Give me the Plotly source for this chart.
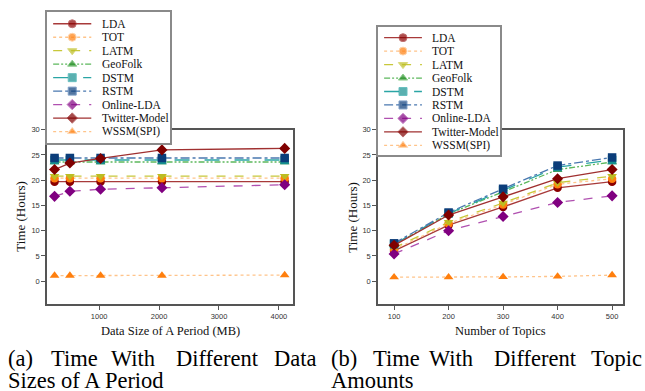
import numpy as np
import plotly.graph_objects as go

W, H = 645, 391

# ---------------- data ----------------
series_names = ["LDA", "TOT", "LATM", "GeoFolk", "DSTM", "RSTM", "Online-LDA", "Twitter-Model", "WSSM(SPI)"]

data_sizes = [256, 512, 1024, 2048, 4096]
topic_counts = [100, 200, 300, 400, 500]

size_lda = [19.7, 19.7, 19.7, 19.7, 19.7]
size_tot = [20.4, 20.4, 20.4, 20.4, 20.4]
size_latm = [20.8, 20.8, 20.8, 20.8, 20.8]
size_geofolk = [23.6, 23.6, 23.6, 23.6, 23.6]
size_dstm = [24.0, 24.0, 24.0, 24.0, 24.0]
size_rstm = [24.4, 24.4, 24.4, 24.4, 24.4]
size_online = [16.8, 17.8, 18.2, 18.5, 19.1]
size_twitter = [22.1, 23.4, 24.3, 26.0, 26.3]
size_wssm = [1.1, 1.1, 1.1, 1.1, 1.2]

topic_lda = [6.0, 11.1, 14.7, 18.5, 19.7]
topic_tot = [6.3, 11.4, 15.2, 19.2, 20.3]
topic_latm = [6.6, 11.7, 15.5, 19.5, 20.8]
topic_geofolk = [7.2, 13.3, 17.7, 22.1, 23.6]
topic_dstm = [7.3, 13.4, 18.0, 22.6, 24.0]
topic_rstm = [7.5, 13.6, 18.3, 22.9, 24.5]
topic_online = [5.4, 10.0, 12.8, 15.6, 16.9]
topic_twitter = [7.1, 13.1, 16.7, 20.3, 22.1]
topic_wssm = [0.8, 0.8, 0.85, 0.95, 1.2]

y_ticks = [0, 5, 10, 15, 20, 25, 30]
size_ticks = [1000, 2000, 3000, 4000]

size_values = [size_lda, size_tot, size_latm, size_geofolk, size_dstm,
               size_rstm, size_online, size_twitter, size_wssm]
topic_values = [topic_lda, topic_tot, topic_latm, topic_geofolk, topic_dstm,
                topic_rstm, topic_online, topic_twitter, topic_wssm]

# ---------------- styles ----------------
styles = [
    dict(line="#a83a3a", marker="#8b0000", dash="solid", symbol="circle"),
    dict(line="#ffc48a", marker="#ff7f0e", dash="dot", symbol="circle"),
    dict(line="#c8c83a", marker="#bcbd22", dash="dash", symbol="triangle-down"),
    dict(line="#5cb85c", marker="#1e8a1e", dash="6px,2px,2px,2px,2px,2px", symbol="triangle-up"),
    dict(line="#2aa5a5", marker="#158f8f", dash="longdash", symbol="square"),
    dict(line="#4a78b0", marker="#0b3d7a", dash="dashdot", symbol="square"),
    dict(line="#b050b0", marker="#800080", dash="dash", symbol="diamond"),
    dict(line="#a03030", marker="#800000", dash="solid", symbol="diamond"),
    dict(line="#ffc48a", marker="#ff7f0e", dash="dot", symbol="triangle-up"),
]


def px_x(p):
    return p / W


def px_y(p):
    return 1 - p / H


fig = go.Figure()

for i, name in enumerate(series_names):
    st = styles[i]
    fig.add_trace(go.Scatter(
        x=data_sizes, y=size_values[i], name=name, mode="lines+markers",
        line=dict(color=st["line"], width=1.3, dash=st["dash"]),
        marker=dict(color=st["marker"], symbol=st["symbol"], size=8.5),
        xaxis="x", yaxis="y", showlegend=False, cliponaxis=False))
    fig.add_trace(go.Scatter(
        x=topic_counts, y=topic_values[i], name=name, mode="lines+markers",
        line=dict(color=st["line"], width=1.3, dash=st["dash"]),
        marker=dict(color=st["marker"], symbol=st["symbol"], size=8.5),
        xaxis="x2", yaxis="y2", showlegend=False, cliponaxis=False))

# ---------------- custom legends (own small subplots) ----------------
rows = np.arange(len(series_names))
for i, name in enumerate(series_names):
    st = styles[i]
    for ax_x, ax_y in (("x3", "y3"), ("x4", "y4")):
        fig.add_trace(go.Scatter(
            x=[0.05, 0.205, 0.36], y=[rows[i]] * 3, mode="lines+markers",
            line=dict(color=st["line"], width=1.3, dash=st["dash"]),
            marker=dict(color=st["marker"], symbol=st["symbol"], size=[0, 8, 0]),
            xaxis=ax_x, yaxis=ax_y, showlegend=False, hoverinfo="skip"))
        fig.add_annotation(x=0.43, y=rows[i], xref=ax_x, yref=ax_y, text=name,
                           showarrow=False, xanchor="left", yanchor="middle",
                           font=dict(family="Liberation Serif", size=11.5, color="#111"))

tick_font = dict(family="Liberation Sans", size=7.5, color="#333")
frame = "#555"
common_x = dict(showline=True, mirror=True, linecolor=frame, linewidth=1.5,
                ticks="outside", ticklen=4, tickcolor=frame, tickwidth=1,
                showgrid=False, zeroline=False, tickfont=tick_font)
common_y = dict(showline=True, mirror=True, linecolor=frame, linewidth=1.5,
                ticks="outside", ticklen=4, tickcolor=frame, tickwidth=1,
                showgrid=False, zeroline=False, tickfont=tick_font,
                range=[-4.5, 30], tickvals=y_ticks)

leg_axis = dict(showline=True, mirror=True, linecolor="#8a8a8a", linewidth=1.5,
                ticks="", showticklabels=False, showgrid=False, zeroline=False,
                fixedrange=True)

fig.update_layout(
    width=W, height=H,
    margin=dict(l=0, r=0, t=0, b=0),
    paper_bgcolor="white", plot_bgcolor="white",
    showlegend=False,
    xaxis=dict(common_x, domain=[px_x(47), px_x(293)], range=[130, 4235],
               tickvals=size_ticks, anchor="y"),
    yaxis=dict(common_y, domain=[px_y(303), px_y(127)], anchor="x"),
    xaxis2=dict(common_x, domain=[px_x(378), px_x(623)], range=[70.5, 520],
                tickvals=topic_counts, anchor="y2"),
    yaxis2=dict(common_y, domain=[px_y(303), px_y(127)], anchor="x2"),
    xaxis3=dict(leg_axis, domain=[px_x(47), px_x(170)], range=[0, 1], anchor="y3"),
    yaxis3=dict(leg_axis, domain=[px_y(140), px_y(8)], range=[8.82, -0.88], anchor="x3"),
    xaxis4=dict(leg_axis, domain=[px_x(378), px_x(500)], range=[0, 1], anchor="y4"),
    yaxis4=dict(leg_axis, domain=[px_y(153), px_y(23)], range=[8.75, -0.81], anchor="x4"),
)

serif = "Liberation Serif"
# axis titles
fig.add_annotation(x=px_x(170), y=px_y(330), xref="paper", yref="paper",
                   text="Data Size of A Period (MB)", showarrow=False,
                   xanchor="center", yanchor="middle",
                   font=dict(family=serif, size=12.5, color="#111"))
fig.add_annotation(x=px_x(500), y=px_y(330), xref="paper", yref="paper",
                   text="Number of Topics", showarrow=False,
                   xanchor="center", yanchor="middle",
                   font=dict(family=serif, size=12.5, color="#111"))
fig.add_annotation(x=px_x(21), y=px_y(215), xref="paper", yref="paper",
                   text="Time (Hours)", showarrow=False, textangle=-90,
                   xanchor="center", yanchor="middle",
                   font=dict(family=serif, size=13, color="#111"))
fig.add_annotation(x=px_x(353), y=px_y(215), xref="paper", yref="paper",
                   text="Time (Hours)", showarrow=False, textangle=-90,
                   xanchor="center", yanchor="middle",
                   font=dict(family=serif, size=13, color="#111"))

# captions (justified first line -> word by word)
cap_font = dict(family=serif, size=22.5, color="#000")
caption_words = [
    ("(a)", 7, 358), ("Time", 50, 358), ("With", 110, 358), ("Different", 175, 358), ("Data", 273, 358),
    ("Sizes of A Period", 7, 380),
    ("(b)", 330, 358), ("Time", 372, 358), ("With", 428, 358), ("Different", 493, 358), ("Topic", 590, 358),
    ("Amounts", 330, 380),
]
for word, xp, yp in caption_words:
    fig.add_annotation(x=px_x(xp), y=px_y(yp), xref="paper", yref="paper", text=word,
                       showarrow=False, xanchor="left", yanchor="middle",
                       borderpad=0, font=cap_font)

fig.write_html("out.html", config={"displayModeBar": False},
               post_script="document.body.style.margin='0';document.body.style.overflow='hidden';")
